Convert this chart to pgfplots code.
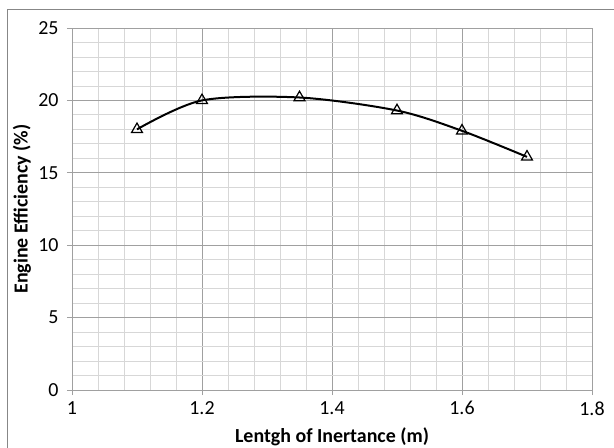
\documentclass[border=0pt]{standalone}
\usepackage{fontspec}
\setmainfont{Carlito}
\usepackage{pgfplots}
\pgfplotsset{compat=1.18}

\begin{document}
\begin{tikzpicture}
\useasboundingbox (-72bp,-58bp) rectangle (542bp,390bp);
\draw[color={rgb,255:red,135;green,135;blue,135},line width=1bp] (-64bp,-70bp) -- (-64bp,380bp) -- (560bp,380bp);
\begin{axis}[at={(0,0)},anchor=south west,scale only axis,
width=520bp,height=362bp,
xmin=1,xmax=1.8,ymin=0,ymax=25,
xtick={1,1.2,...,1.8},ytick={0,5,...,25},
minor x tick num=4,minor y tick num=4,
grid=both,
major grid style={color={rgb,255:red,160;green,160;blue,160},line width=0.8bp},
minor grid style={color={rgb,255:red,215;green,215;blue,215},line width=0.8bp},
axis line style={color={rgb,255:red,160;green,160;blue,160},line width=0.8bp},
tick pos=left,tick align=outside,
major tick length=5bp,minor tick length=0pt,
tick style={color={rgb,255:red,160;green,160;blue,160},line width=0.8bp},
/pgf/number format/assume math mode=true,
ticklabel style={font=\fontsize{20}{23}\selectfont},
xticklabel style={yshift=-3bp},
yticklabel style={xshift=-5bp},
xlabel={\textbf{Lentgh of Inertance (m)}},
ylabel={\textbf{Engine Efficiency (\%)}},
label style={font=\fontsize{20}{23}\selectfont},
xlabel style={at={(axis description cs:0.5,-0.1298)},anchor=center},
ylabel style={at={(axis description cs:-0.0962,0.5)},anchor=center},
]
\addplot[black,line width=2bp,smooth,tension=0.5,
mark=triangle,mark size=6.3bp,
mark options={solid,fill=white,line width=1.2bp}]
coordinates {(1.1,18.0) (1.2,20.0) (1.35,20.2) (1.5,19.3) (1.6,17.9) (1.7,16.1)};
\end{axis}
\end{tikzpicture}
\end{document}
